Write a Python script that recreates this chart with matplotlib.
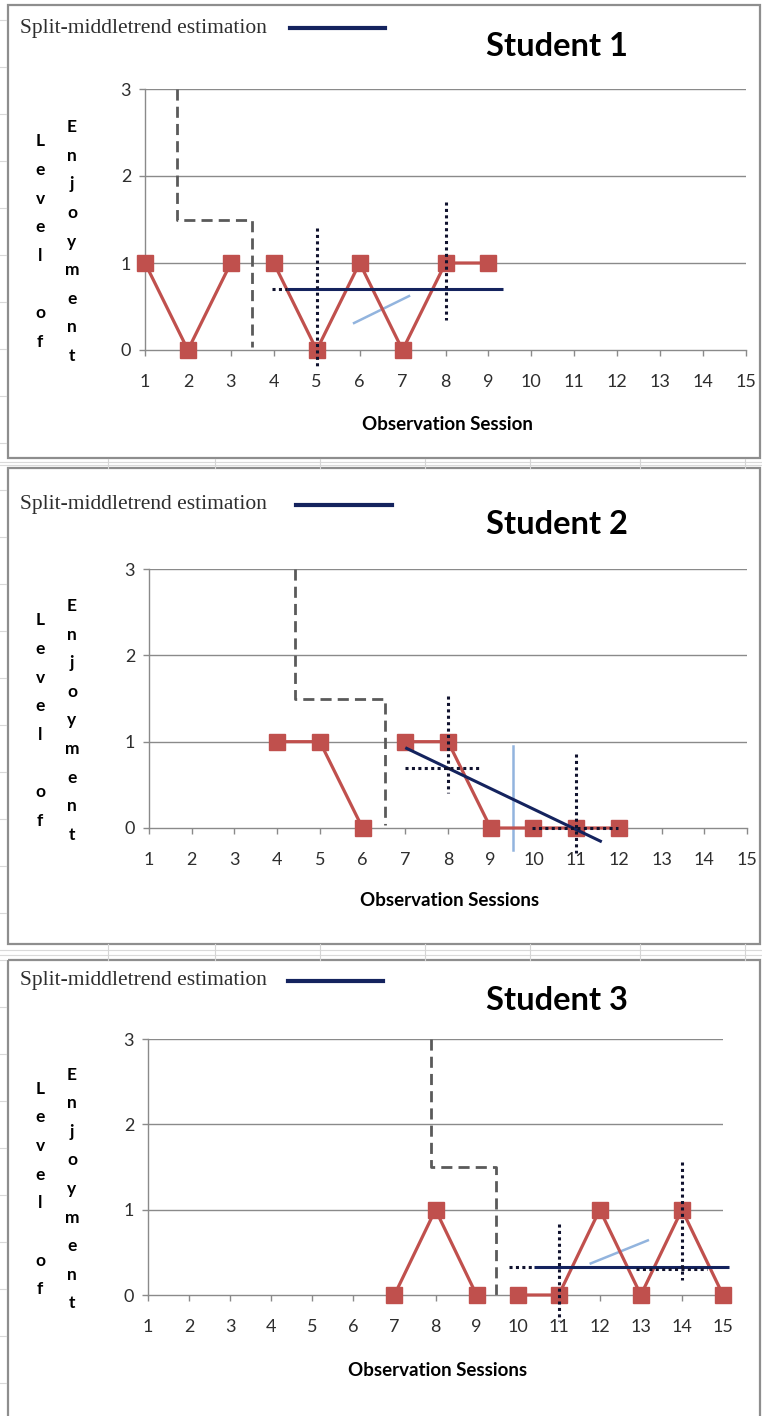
import matplotlib
matplotlib.use("Agg")
import matplotlib.pyplot as plt
from matplotlib.patches import Rectangle
from matplotlib.lines import Line2D

W, H = 762, 1416

# ---------------- data ----------------
titles = ["Student 1", "Student 2", "Student 3"]
xlabels = ["Observation Session", "Observation Sessions", "Observation Sessions"]
sessions = list(range(1, 16))
y_ticks = [0, 1, 2, 3]

# phase A / phase B data series
s1_a_x = [1, 2, 3]
s1_a_y = [1, 0, 1]
s1_b_x = [4, 5, 6, 7, 8, 9]
s1_b_y = [1, 0, 1, 0, 1, 1]

s2_a_x = [4, 5, 6]
s2_a_y = [1, 1, 0]
s2_b_x = [7, 8, 9, 10, 11, 12]
s2_b_y = [1, 1, 0, 0, 0, 0]

s3_a_x = [7, 8, 9]
s3_a_y = [0, 1, 0]
s3_b_x = [10, 11, 12, 13, 14, 15]
s3_b_y = [0, 0, 1, 0, 1, 0]

# phase-change (dashed step) lines
phase1_x = [1.75, 1.75, 3.5, 3.5]
phase1_y = [3, 1.5, 1.5, 0.03]
phase2_x = [4.42, 4.42, 6.53, 6.53]
phase2_y = [3, 1.5, 1.5, 0.03]
phase3_x = [7.89, 7.89, 9.47, 9.47]
phase3_y = [3, 1.5, 1.5, 0.0]

# split-middle trend lines (navy)
trend1_x = [4.3, 9.35]
trend1_y = [0.7, 0.7]
trend2_x = [7.0, 11.6]
trend2_y = [0.93, -0.16]
trend3_x = [10.4, 15.14]
trend3_y = [0.33, 0.33]

# light-blue helper lines
aux1_x = [5.87, 7.15]
aux1_y = [0.31, 0.62]
aux2_x = [9.52, 9.52]
aux2_y = [0.95, -0.25]
aux3_x = [11.78, 13.17]
aux3_y = [0.37, 0.64]

# dotted mid-point guides: list of (x pair, y pair)
dots1 = [([5, 5], [1.4, -0.2]), ([8, 8], [1.7, 0.34]), ([3.96, 4.3], [0.7, 0.7])]
dots2 = [([7.0, 8.75], [0.69, 0.69]), ([8, 8], [1.53, 0.4]),
         ([11, 11], [0.86, -0.29]), ([9.97, 11.98], [0, 0])]
dots3 = [([11, 11], [0.83, -0.3]), ([14, 14], [1.56, 0.17]),
         ([9.8, 10.4], [0.33, 0.33]), ([12.87, 14.6], [0.31, 0.31])]

legend_label = "Split-middletrend estimation"
ylab_a = "Level of"
ylab_b = "Enjoyment"

# ---------------- styling ----------------
RED = "#C0504D"
NAVY = "#14235E"
DASHGRAY = "#5A5A5A"
DOTC = "#10122E"
LBLUE = "#92B4DE"
GRID = "#8A8A8A"
FRAME = "#8E8E8E"
TXT = "#2E2E2E"

plt.rcParams['font.family'] = ['Lato', 'DejaVu Sans']

fig = plt.figure(figsize=(W / 100, H / 100), dpi=100)
fig.patch.set_facecolor("white")

def fx(px):
    return px / W

def fy(py):
    return 1 - py / H

# background spreadsheet cell hints
bg = fig.add_axes([0, 0, 1, 1])
bg.set_xlim(0, W)
bg.set_ylim(H, 0)
bg.axis("off")
for yy in [462, 465, 950, 955]:
    bg.add_line(Line2D([0, W], [yy, yy], color="#DADADA", lw=0.8))
for xx in [108, 215, 320, 425, 530, 640, 745]:
    bg.add_line(Line2D([xx, xx], [459, 468], color="#D5D5D5", lw=0.8))
    bg.add_line(Line2D([xx, xx], [944, 960], color="#D5D5D5", lw=0.8))
for yy in range(20, H, 47):
    bg.add_line(Line2D([0, 6], [yy, yy], color="#D8D8D8", lw=0.8))

# panel frames (pixel boxes)
frames = [(8, 5, 752, 453), (8, 468, 752, 476), (8, 960, 752, 470)]
for (x0, y0, w, h) in frames:
    bg.add_patch(Rectangle((x0, y0), w, h, fill=False, edgecolor=FRAME, lw=1.6))

panels = [
    dict(box=(145, 89, 746, 350), a=(s1_a_x, s1_a_y), b=(s1_b_x, s1_b_y),
         phase=(phase1_x, phase1_y), trend=(trend1_x, trend1_y),
         aux=(aux1_x, aux1_y), dots=dots1, leg_y=28, leg_text_x=20,
         leg_line=(290, 385), title_y=47, xl_y=424, xl_x=447),
    dict(box=(149, 569, 747, 828), a=(s2_a_x, s2_a_y), b=(s2_b_x, s2_b_y),
         phase=(phase2_x, phase2_y), trend=(trend2_x, trend2_y),
         aux=(aux2_x, aux2_y), dots=dots2, leg_y=505, leg_text_x=20,
         leg_line=(296, 392), title_y=524, xl_y=901, xl_x=450),
    dict(box=(148, 1039, 723, 1295), a=(s3_a_x, s3_a_y), b=(s3_b_x, s3_b_y),
         phase=(phase3_x, phase3_y), trend=(trend3_x, trend3_y),
         aux=(aux3_x, aux3_y), dots=dots3, leg_y=981, leg_text_x=20,
         leg_line=(288, 383), title_y=1000, xl_y=1370, xl_x=438),
]

for i, p in enumerate(panels):
    l, t, r, b = p["box"]
    ax = fig.add_axes([fx(l), fy(b), fx(r) - fx(l), fy(t) - fy(b)])
    ax.set_xlim(1, 15)
    ax.set_ylim(0, 3)
    ax.set_facecolor("none")
    for sp in ["top", "right"]:
        ax.spines[sp].set_visible(False)
    ax.spines["left"].set_color(GRID)
    ax.spines["bottom"].set_color(GRID)
    ax.spines["left"].set_linewidth(1.0)
    ax.spines["bottom"].set_linewidth(1.0)
    ax.set_xticks(sessions)
    ax.set_yticks(y_ticks)
    ax.tick_params(axis="x", length=4, width=1.0, color=GRID, pad=13,
                   labelsize=13, labelcolor=TXT)
    ax.tick_params(axis="y", length=4, width=1.0, color=GRID, pad=6,
                   labelsize=13, labelcolor=TXT)
    for g in y_ticks[1:]:
        ax.axhline(g, color=GRID, lw=1.0, zorder=1)

    # phase change line
    ax.plot(*p["phase"], color=DASHGRAY, lw=2.0, dashes=(4, 2.2), zorder=2,
            clip_on=False)
    # light blue helper
    ax.plot(*p["aux"], color=LBLUE, lw=1.8, zorder=2, clip_on=False)
    # data
    for key in ("a", "b"):
        xs, ys = p[key]
        ax.plot(xs, ys, color=RED, lw=2.3, marker="s", markersize=11.5,
                markerfacecolor=RED, markeredgecolor=RED, zorder=3,
                clip_on=False)
    # trend
    ax.plot(*p["trend"], color=NAVY, lw=2.2, zorder=4, clip_on=False,
            solid_capstyle="butt")
    # dotted guides
    for xs, ys in p["dots"]:
        ax.plot(xs, ys, color=DOTC, lw=2.2, dashes=(1, 1.1), zorder=5,
                clip_on=False)

    # title
    fig.text(fx(557), fy(p["title_y"]), titles[i], fontsize=23.5,
             fontweight="bold", color="black", ha="center", va="center")
    # legend-like label
    fig.text(fx(p["leg_text_x"]), fy(p["leg_y"]), legend_label,
             family=["Liberation Serif"], fontsize=15.5, color="#2E2E2E",
             ha="left", va="center")
    bg.add_line(Line2D(list(p["leg_line"]), [p["leg_y"], p["leg_y"]],
                       color=NAVY, lw=3.0))
    # x label
    fig.text(fx(p["xl_x"]), fy(p["xl_y"]), xlabels[i], fontsize=13.5,
             fontweight="bold", color="black", ha="center", va="center")
    # stacked vertical y label
    mid = (t + b) / 2 + 22
    fig.text(fx(40), fy(mid), "\n".join(ylab_a),
             fontsize=12.5, fontweight="bold", ha="center", va="center",
             linespacing=1.97)
    fig.text(fx(72), fy(mid), "\n".join(ylab_b), fontsize=12.5,
             fontweight="bold", ha="center", va="center", linespacing=1.97)

fig.savefig("out.png", dpi=100, facecolor="white")
